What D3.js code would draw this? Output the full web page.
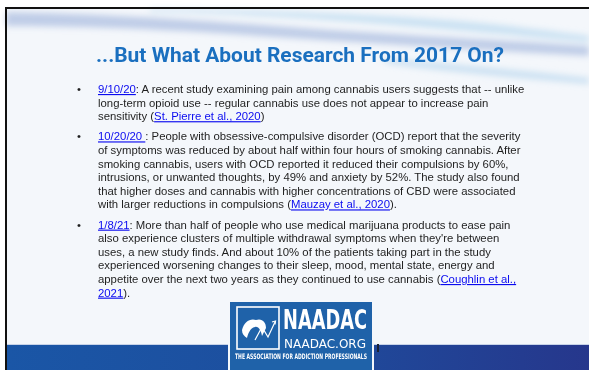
<!DOCTYPE html>
<html>
<head>
<meta charset="utf-8">
<script src="https://cdn.jsdelivr.net/npm/d3@7"></script>
<style>
  html, body { margin: 0; padding: 0; background: #fff; }
  svg { display: block; }
</style>
</head>
<body>
<svg id="chart"></svg>
<script>
// Slide content. Text in {braces} is a hyperlink (blue, underlined).
let titleText = "...But What About Research From 2017 On?";

let bullet1 = [
  "{9/10/20}: A recent study examining pain among cannabis users suggests that -- unlike",
  "long-term opioid use -- regular cannabis use does not appear to increase pain",
  "sensitivity ({St. Pierre et al., 2020})"
];

let bullet2 = [
  "{10/20/20 }: People with obsessive-compulsive disorder (OCD) report that the severity",
  "of symptoms was reduced by about half within four hours of smoking cannabis. After",
  "smoking cannabis, users with OCD reported it reduced their compulsions by 60%,",
  "intrusions, or unwanted thoughts, by 49% and anxiety by 52%. The study also found",
  "that higher doses and cannabis with higher concentrations of CBD were associated",
  "with larger reductions in compulsions ({Mauzay et al., 2020})."
];

let bullet3 = [
  "{1/8/21}: More than half of people who use medical marijuana products to ease pain",
  "also experience clusters of multiple withdrawal symptoms when they're between",
  "uses, a new study finds. And about 10% of the patients taking part in the study",
  "experienced worsening changes to their sleep, mood, mental state, energy and",
  "appetite over the next two years as they continued to use cannabis ({Coughlin et al.,}",
  "{2021})."
];

let bullets = [bullet1, bullet2, bullet3];

let logoLines = ["NAADAC", "NAADAC.ORG", "THE ASSOCIATION FOR ADDICTION PROFESSIONALS"];

let width = 589, height = 370;

let svg = d3.select("#chart")
  .attr("width", width)
  .attr("height", height)
  .attr("viewBox", [0, 0, width, height]);

let defs = svg.append("defs");

let bandGrad = defs.append("linearGradient").attr("id", "band");
bandGrad.append("stop").attr("offset", "0%").attr("stop-color", "#1a56a6");
bandGrad.append("stop").attr("offset", "45%").attr("stop-color", "#1d4f9f");
bandGrad.append("stop").attr("offset", "100%").attr("stop-color", "#26378c");

defs.append("filter").attr("id", "blur")
  .attr("x", "-20%").attr("y", "-200%").attr("width", "140%").attr("height", "500%")
  .append("feGaussianBlur").attr("stdDeviation", 3);

// Slide background.
svg.append("rect").attr("width", width).attr("height", height).attr("fill", "#fff");
svg.append("rect")
  .attr("x", 6).attr("y", 8)
  .attr("width", width - 6).attr("height", height - 8)
  .attr("fill", "#f4f7fb");

// Wispy swooshes at the top.
let swoosh = svg.append("g").attr("filter", "url(#blur)");
swoosh.append("path")
  .attr("d", "M6,12 C120,14 220,22 330,30 C420,36 500,40 589,46 L589,56 C480,50 380,44 260,36 C150,28 60,26 6,26 Z")
  .attr("fill", "#aebfe0").attr("opacity", 0.75);
swoosh.append("path")
  .attr("d", "M150,9 C260,10 380,14 470,22 C520,27 560,32 589,36 L589,42 C520,36 420,26 300,18 C230,14 180,12 150,12 Z")
  .attr("fill", "#bfdcf0").attr("opacity", 0.8);
swoosh.append("path")
  .attr("d", "M380,58 C450,64 520,70 589,78 L589,84 C520,78 450,72 390,64 Z")
  .attr("fill", "#b9d7ee").attr("opacity", 0.7);

// Black frame on the top and left edges.
svg.append("line").attr("x1", 5).attr("x2", width).attr("y1", 8).attr("y2", 8)
  .attr("stroke", "#111").attr("stroke-width", 2);
svg.append("line").attr("x1", 6).attr("x2", 6).attr("y1", 7).attr("y2", height)
  .attr("stroke", "#111").attr("stroke-width", 2);

// Bottom band.
svg.append("rect")
  .attr("x", 7).attr("y", 344).attr("width", width - 7).attr("height", 26)
  .attr("fill", "url(#band)");
svg.append("line").attr("x1", 7).attr("x2", width).attr("y1", 344.5).attr("y2", 344.5)
  .attr("stroke", "#c7d3e8").attr("stroke-width", 1);

// Title.
svg.append("text")
  .attr("x", 96).attr("y", 62)
  .attr("textLength", 408)
  .attr("lengthAdjust", "spacingAndGlyphs")
  .attr("fill", "#1a6fbf")
  .style("font-family", "Roboto, sans-serif")
  .style("font-weight", "700")
  .style("font-size", "21px")
  .text(titleText);

// Body text: a scale for line index -> baseline, plus paragraph spacing.
let totalLines = d3.sum(bullets, (b) => b.length);
let lineY = d3.scaleLinear().domain([0, totalLines - 1]).range([93, 93 + (totalLines - 1) * 13.6]);
let paraGap = 6.6;

let body = svg.append("g")
  .style("font-family", "'Liberation Sans', Arial, sans-serif")
  .style("font-size", "11.35px")
  .attr("fill", "#1e1e1e");

function parseLine(str) {
  let parts = [];
  let re = /\{([^}]*)\}/g, last = 0, m;
  while ((m = re.exec(str)) != null) {
    if (m.index > last) parts.push({ text: str.slice(last, m.index), link: false });
    parts.push({ text: m[1], link: true });
    last = m.index + m[0].length;
  }
  if (last < str.length) parts.push({ text: str.slice(last), link: false });
  return parts;
}

let lineIndex = 0;
bullets.forEach((lines, p) => {
  let y0 = lineY(lineIndex) + p * paraGap;
  body.append("text")
    .attr("x", 77).attr("y", y0)
    .text("\u2022");
  lines.forEach((line, i) => {
    let y = lineY(lineIndex) + p * paraGap;
    body.append("text")
      .attr("x", 98).attr("y", y)
      .style("white-space", "pre")
      .selectAll("tspan")
      .data(parseLine(line))
      .join("tspan")
      .attr("fill", (d) => d.link ? "#0b0bf0" : null)
      .style("text-decoration", (d) => d.link ? "underline" : null)
      .text((d) => d.text);
    lineIndex++;
  });
});

// Logo.
let logo = svg.append("g");
logo.append("rect").attr("x", 228).attr("y", 300).attr("width", 146).attr("height", 72).attr("fill", "#f4f7fb");
logo.append("rect").attr("x", 230).attr("y", 302).attr("width", 142).attr("height", 70).attr("fill", "#1f62a9");
logo.append("rect").attr("x", 237).attr("y", 307).attr("width", 42).attr("height", 42)
  .attr("fill", "none").attr("stroke", "#fff").attr("stroke-width", 1.6);
// stylised figure in the icon
logo.append("path")
  .attr("d", "M242,330 C244,322 250,318 256,320 C262,318 266,322 266,328 L262,336 C261,330 258,326 255,327 C250,328 248,334 247,338 C244,336 242,334 242,330 Z")
  .attr("fill", "#fff");
logo.append("path")
  .attr("d", "M255,340 L262,327 L268,337 L275,322")
  .attr("fill", "none").attr("stroke", "#fff").attr("stroke-width", 1.2);
logo.append("path")
  .attr("d", "M272,322 L275.5,321 L275,324.5")
  .attr("fill", "none").attr("stroke", "#fff").attr("stroke-width", 1.2);

logo.append("text")
  .attr("x", 283).attr("y", 329)
  .attr("textLength", 84).attr("lengthAdjust", "spacingAndGlyphs")
  .attr("fill", "#fff")
  .style("font-family", "'DejaVu Sans Condensed', 'DejaVu Sans', sans-serif")
  .style("font-weight", "700").style("font-size", "27px")
  .text(logoLines[0]);
logo.append("text")
  .attr("x", 284).attr("y", 347.5)
  .attr("textLength", 82).attr("lengthAdjust", "spacingAndGlyphs")
  .attr("fill", "#fff")
  .style("font-family", "'DejaVu Sans Condensed', 'DejaVu Sans', sans-serif")
  .style("font-size", "12.5px")
  .text(logoLines[1]);
logo.append("text")
  .attr("x", 235).attr("y", 359)
  .attr("textLength", 132).attr("lengthAdjust", "spacingAndGlyphs")
  .attr("fill", "#fff")
  .style("font-family", "'DejaVu Sans Condensed', 'DejaVu Sans', sans-serif")
  .style("font-weight", "700").style("font-size", "7.5px")
  .text(logoLines[2]);

// small shadow mark to the right of the logo
svg.append("rect").attr("x", 377).attr("y", 344).attr("width", 2).attr("height", 8).attr("fill", "#1b2236");
</script>
</body>
</html>
